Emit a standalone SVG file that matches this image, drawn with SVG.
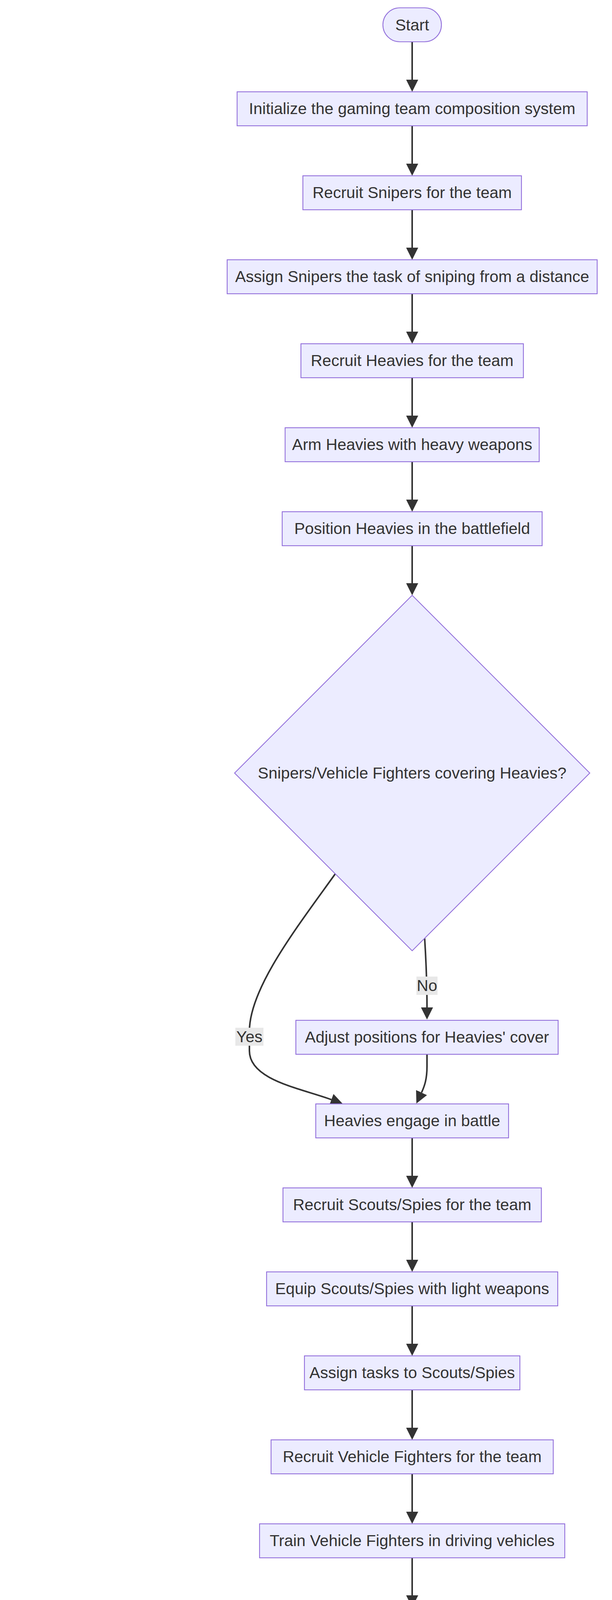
<svg xmlns="http://www.w3.org/2000/svg" width="1568" height="6920" viewBox="0 0 1568 6920">
<style>
.n{fill:#ECECFF;stroke:#9370DB;stroke-width:2.2}
.t{font-family:"Trebuchet MS","Liberation Sans",Arial,sans-serif;font-size:41px;fill:#333333;text-anchor:middle}
.e{fill:none;stroke:#333333;stroke-width:4}
.lb{fill:#E8E8E8}
</style>
<defs>
<marker id="ah" markerUnits="userSpaceOnUse" viewBox="0 0 31 31" markerWidth="31" markerHeight="31" refX="0" refY="15.5" orient="auto">
<path d="M0,0 L31,15.5 L0,31 Z" fill="#333333"/>
</marker>
</defs>
<rect width="1568" height="6920" fill="#FFFFFF"/>
<g id="edges">
<path class="e" marker-end="url(#ah)" d="M1056,107 L1056,204"/>
<path class="e" marker-end="url(#ah)" d="M1056,322 L1056,419"/>
<path class="e" marker-end="url(#ah)" d="M1056,537 L1056,634"/>
<path class="e" marker-end="url(#ah)" d="M1056,752 L1056,849"/>
<path class="e" marker-end="url(#ah)" d="M1056,967 L1056,1064"/>
<path class="e" marker-end="url(#ah)" d="M1056,1182 L1056,1279"/>
<path class="e" marker-end="url(#ah)" d="M1056,1397 L1056,1493"/>
<path class="e" marker-end="url(#ah)" d="M859,2237 C760,2375 639,2530 639,2640 L639,2690 C639,2765 770,2786 849,2815"/>
<path class="e" marker-end="url(#ah)" d="M1088,2402 C1091,2450 1094,2500 1094,2579"/>
<path class="e" marker-end="url(#ah)" d="M1094,2698 L1094,2730 C1094,2762 1088,2780 1080,2797"/>
<path class="e" marker-end="url(#ah)" d="M1056,2913 L1056,3010"/>
<path class="e" marker-end="url(#ah)" d="M1056,3128 L1056,3225"/>
<path class="e" marker-end="url(#ah)" d="M1056,3343 L1056,3440"/>
<path class="e" marker-end="url(#ah)" d="M1056,3558 L1056,3655"/>
<path class="e" marker-end="url(#ah)" d="M1056,3773 L1056,3870"/>
<path class="e" marker-end="url(#ah)" d="M1056,3988 L1056,4084"/>
<path class="e" marker-end="url(#ah)" d="M914,4584 C800,4720 712,4800 712,4920 L712,4985 C712,5060 795,5078 870,5106"/>
<path class="e" marker-end="url(#ah)" d="M1085,4697 C1089,4750 1094,4800 1094,4870"/>
<path class="e" marker-end="url(#ah)" d="M1094,4988 L1094,5020 C1094,5052 1088,5070 1080,5087"/>
<path class="e" marker-end="url(#ah)" d="M1056,5203 L1056,5300"/>
<path class="e" marker-end="url(#ah)" d="M1056,5418 L1056,5516"/>
<path class="e" marker-end="url(#ah)" d="M877,5954 C700,6070 490,6190 455,6245 C447,6258 444,6268 444,6279"/>
<path class="e" marker-end="url(#ah)" d="M1057,6133 L1057,6200 C1057,6240 1068,6262 1074,6280"/>
<path class="e" marker-end="url(#ah)" d="M1106,6310 C1120,6250 1128,6200 1114,6118"/>
<path class="e" marker-end="url(#ah)" d="M444,6397 L444,6494"/>
<path class="e" marker-end="url(#ah)" d="M444,6611 L444,6708"/>
</g>
<g id="edge-labels">
<g id="lbl-no1"><rect class="lb" x="1067" y="2500" width="54" height="47"/><text class="t" x="1094" y="2537">No</text></g>
<g id="lbl-yes1"><rect class="lb" x="603" y="2631" width="72" height="46"/><text class="t" x="639" y="2668">Yes</text></g>
<g id="lbl-no2"><rect class="lb" x="1067" y="4791" width="54" height="47"/><text class="t" x="1094" y="4828">No</text></g>
<g id="lbl-yes2"><rect class="lb" x="676" y="4921" width="72" height="47"/><text class="t" x="712" y="4958">Yes</text></g>
<g id="lbl-yes3"><rect class="lb" x="408" y="6199" width="72" height="46"/><text class="t" x="444" y="6236">Yes</text></g>
<g id="lbl-no3"><rect class="lb" x="1030" y="6199" width="54" height="46"/><text class="t" x="1057" y="6236">No</text></g>
</g>
<g id="start"><rect class="n" x="981" y="20" width="150" height="87" rx="43.5" ry="43.5"/><text class="t" x="1056" y="78">Start</text></g>
<g id="init"><rect class="n" x="607.5" y="235" width="897" height="87"/><text class="t" x="1056" y="292">Initialize the gaming team composition system</text></g>
<g id="recruit-snipers"><rect class="n" x="776" y="450" width="560" height="87"/><text class="t" x="1056" y="507">Recruit Snipers for the team</text></g>
<g id="assign-snipers"><rect class="n" x="582" y="665" width="948" height="87"/><text class="t" x="1056" y="722">Assign Snipers the task of sniping from a distance</text></g>
<g id="recruit-heavies"><rect class="n" x="771" y="880" width="570" height="87"/><text class="t" x="1056" y="937">Recruit Heavies for the team</text></g>
<g id="arm-heavies"><rect class="n" x="730.5" y="1095" width="651" height="87"/><text class="t" x="1056" y="1152">Arm Heavies with heavy weapons</text></g>
<g id="position-heavies"><rect class="n" x="723" y="1310" width="666" height="87"/><text class="t" x="1056" y="1367">Position Heavies in the battlefield</text></g>
<g id="decision-cover"><polygon class="n" points="1056,1524 1511,1979 1056,2434 601,1979"/><text class="t" x="1056" y="1993">Snipers/Vehicle Fighters covering Heavies?</text></g>
<g id="adjust"><rect class="n" x="758" y="2612" width="672" height="87"/><text class="t" x="1094" y="2669">Adjust positions for Heavies' cover</text></g>
<g id="heavies-engage"><rect class="n" x="809" y="2826" width="494" height="87"/><text class="t" x="1056" y="2883">Heavies engage in battle</text></g>
<g id="recruit-scouts"><rect class="n" x="725" y="3041" width="662" height="87"/><text class="t" x="1056" y="3098">Recruit Scouts/Spies for the team</text></g>
<g id="equip-scouts"><rect class="n" x="683" y="3256" width="746" height="87"/><text class="t" x="1056" y="3313">Equip Scouts/Spies with light weapons</text></g>
<g id="assign-tasks"><rect class="n" x="780" y="3471" width="552" height="87"/><text class="t" x="1056" y="3528">Assign tasks to Scouts/Spies</text></g>
<g id="recruit-vf"><rect class="n" x="694.5" y="3686" width="723" height="87"/><text class="t" x="1056" y="3743">Recruit Vehicle Fighters for the team</text></g>
<g id="train-vf"><rect class="n" x="665" y="3901" width="782" height="87"/><text class="t" x="1056" y="3958">Train Vehicle Fighters in driving vehicles</text></g>
<g id="decision-proficient"><polygon class="n" points="1056,4115 1361,4420 1056,4725 751,4420"/><text class="t" x="1056" y="4434">Vehicle Fighter proficient?</text></g>
<g id="provide-training"><rect class="n" x="829" y="4901" width="530" height="87"/><text class="t" x="1094" y="4958">Provide additional training</text></g>
<g id="vf-transport"><rect class="n" x="623.5" y="5116" width="865" height="87"/><text class="t" x="1056" y="5173">Vehicle Fighters transport &amp; engage enemies</text></g>
<g id="divide-team"><rect class="n" x="615.5" y="5331" width="881" height="87"/><text class="t" x="1056" y="5388">Divide team into ambush squad &amp; mobile unit</text></g>
<g id="decision-spots"><polygon class="n" points="1056,5547 1349,5840 1056,6133 763,5840"/><text class="t" x="1056" y="5854">Mobile unit spots enemy?</text></g>
<g id="signal-ambush"><rect class="n" x="118.5" y="6310" width="651" height="87"/><text class="t" x="444" y="6367">Signal ambush squad to open fire</text></g>
<g id="continue-patrolling"><rect class="n" x="897" y="6310" width="394" height="87"/><text class="t" x="1094" y="6367">Continue patrolling</text></g>
<g id="outcome"><polygon class="n" points="63,6525 867,6525 825,6611 20,6611"/><text class="t" x="444" y="6582">Well-structured team &amp; effective tactics</text></g>
<g id="end"><rect class="n" x="380" y="6739" width="128" height="87" rx="43.5" ry="43.5"/><text class="t" x="444" y="6796">End</text></g>
</svg>
